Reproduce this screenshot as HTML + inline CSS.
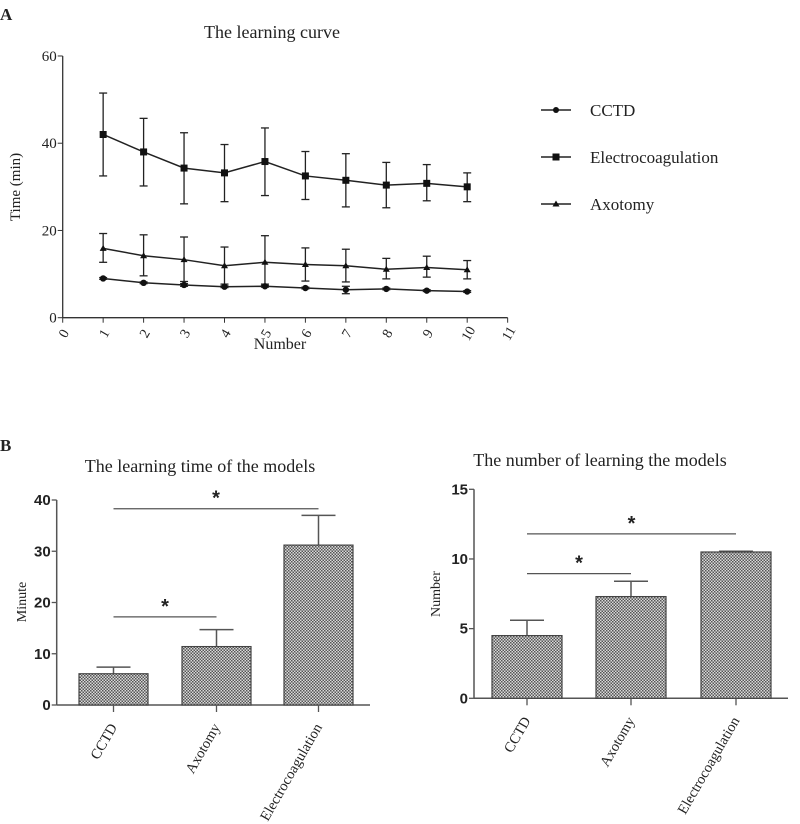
<!DOCTYPE html>
<html><head><meta charset="utf-8"><style>
html,body{margin:0;padding:0;background:#fff}
svg{display:block}
text{font-family:"Liberation Serif",serif;fill:#222}
.b{font-family:"Liberation Sans",sans-serif;font-weight:bold}
</style></head><body>
<svg id="s" width="800" height="824" viewBox="0 0 800 824" xmlns="http://www.w3.org/2000/svg">
<defs>
<pattern id="chk" width="3" height="3" patternUnits="userSpaceOnUse">
<rect width="3" height="3" fill="#dadada"/><rect width="1.5" height="1.5" fill="#555"/><rect x="1.5" y="1.5" width="1.5" height="1.5" fill="#555"/>
</pattern>
</defs>
<text x="0" y="20" class="b" font-size="17" style="font-family:'Liberation Serif',serif">A</text>
<text x="0" y="451" class="b" font-size="17" style="font-family:'Liberation Serif',serif">B</text>
<text x="272" y="38" font-size="18" text-anchor="middle">The learning curve</text>
<text x="280" y="349" font-size="16" text-anchor="middle">Number</text>
<text transform="translate(20,187) rotate(-90)" font-size="15" text-anchor="middle" fill="#444">Time (min)</text>
<text x="200" y="472" font-size="18" text-anchor="middle">The learning time of the models</text>
<text x="600" y="466" font-size="18" text-anchor="middle">The number of learning the models</text>
<text transform="translate(26,602) rotate(-90)" font-size="14" text-anchor="middle">Minute</text>
<text transform="translate(440,594) rotate(-90)" font-size="14" text-anchor="middle">Number</text>
<g id="gA"></g><g id="gB1"></g><g id="gB2"></g>
</svg>
<script>
const xs=[1,2,3,4,5,6,7,8,9,10];
const electroMean=[42,38,34.3,33.2,35.8,32.5,31.5,30.4,30.8,30];
const electroHi=[51.5,45.7,42.4,39.7,43.5,38.1,37.6,35.6,35.1,33.2];
const electroLo=[32.5,30.2,26.1,26.6,28,27.1,25.4,25.2,26.8,26.6];
const axoMean=[15.9,14.2,13.3,11.9,12.7,12.2,11.9,11.1,11.5,11.0];
const axoHi=[19.3,19,18.5,16.2,18.8,16,15.7,13.6,14.1,13.1];
const axoLo=[12.7,9.6,8.3,7.7,7.7,8.4,8.2,8.9,9.3,8.9];
const cctdMean=[9.0,8.0,7.5,7.1,7.2,6.8,6.4,6.6,6.2,6.0];
const cctdHi=[9.2,8.2,7.8,7.3,7.4,7.0,7.2,6.8,6.4,6.2];
const cctdLo=[8.8,7.8,7.2,6.9,7.0,6.6,5.5,6.4,6.0,5.8];
const xTicks=[0,1,2,3,4,5,6,7,8,9,10,11];
const yTicksA=[0,20,40,60];
const barCats=['CCTD','Axotomy','Electrocoagulation'];
const timeVals=[6.1,11.4,31.2];
const timeErr=[7.4,14.7,37];
const timeTicks=[0,10,20,30,40];
const numVals=[4.5,7.3,10.5];
const numErr=[5.6,8.4,10.55];
const numTicks=[0,5,10,15];
const NS='http://www.w3.org/2000/svg';
function mk(p,t,a,txt){const e=document.createElementNS(NS,t);for(const k in a)e.setAttribute(k,a[k]);if(txt!=null)e.textContent=txt;p.appendChild(e);return e;}
const gA=document.getElementById('gA');
const ax=v=>62.7+v*40.45, ay=v=>317.7-v*4.362;
let e;
e=mk(gA,'line',{x1:ax(0),y1:ay(0),x2:ax(11),y2:ay(0),stroke:'#333','stroke-width':1.3});

e=mk(gA,'line',{x1:ax(0),y1:ay(0),x2:ax(0),y2:ay(60),stroke:'#333','stroke-width':1.3});

xTicks.forEach(t=>{mk(gA,'line',{x1:ax(t),y1:ay(0),x2:ax(t),y2:ay(0)+5,stroke:'#333'});
 e=mk(gA,'text',{transform:`translate(${ax(t)+5},${ay(0)+18}) rotate(-60)`,'font-size':14,'text-anchor':'middle',fill:'#444'},t);
 });
yTicksA.forEach(t=>{mk(gA,'line',{x1:ax(0)-5,y1:ay(t),x2:ax(0),y2:ay(t),stroke:'#333'});
 e=mk(gA,'text',{x:ax(0)-6,y:ay(t)+5,'font-size':15,'text-anchor':'end',fill:'#444'},t);
 });
function series(mean,hi,lo,shape,name){
 const g=mk(gA,'g',{});
 mk(g,'polyline',{points:xs.map((x,i)=>ax(x)+','+ay(mean[i])).join(' '),fill:'none',stroke:'#222','stroke-width':1.5});
 xs.forEach((x,i)=>{const X=ax(x);
  mk(g,'line',{x1:X,y1:ay(hi[i]),x2:X,y2:ay(lo[i]),stroke:'#222','stroke-width':1.3});
  mk(g,'line',{x1:X-4,y1:ay(hi[i]),x2:X+4,y2:ay(hi[i]),stroke:'#222','stroke-width':1.3});
  mk(g,'line',{x1:X-4,y1:ay(lo[i]),x2:X+4,y2:ay(lo[i]),stroke:'#222','stroke-width':1.3});
  const Y=ay(mean[i]);let m;
  if(shape==='c')m=mk(g,'circle',{cx:X,cy:Y,r:3.2,fill:'#111'});
  else if(shape==='s')m=mk(g,'rect',{x:X-3.5,y:Y-3.5,width:7,height:7,fill:'#111'});
  else m=mk(g,'polygon',{points:`${X},${Y-3.5} ${X-3.5},${Y+2.5} ${X+3.5},${Y+2.5}`,fill:'#111'});
  });
}
series(electroMean,electroHi,electroLo,'s','electrocoagulation');
series(axoMean,axoHi,axoLo,'t','axotomy');
series(cctdMean,cctdHi,cctdLo,'c','cctd');
[['CCTD','c',110],['Electrocoagulation','s',157],['Axotomy','t',204]].forEach(([n,s,y])=>{
 const g=mk(gA,'g',{});
 mk(g,'line',{x1:541,y1:y,x2:571,y2:y,stroke:'#222','stroke-width':1.5});
 if(s==='c')mk(g,'circle',{cx:556,cy:y,r:3,fill:'#111'});
 else if(s==='s')mk(g,'rect',{x:552.5,y:y-3.5,width:7,height:7,fill:'#111'});
 else mk(g,'polygon',{points:`556,${y-3.5} 552.5,${y+2.5} 559.5,${y+2.5}`,fill:'#111'});
 mk(g,'text',{x:590,y:y+6,'font-size':17,fill:'#333'},n);
});
function bars(gid,x0,x1,y0,yTop,maxV,ticks,vals,errs,barL,bw,sig,prefix){
 const g=document.getElementById(gid);
 const by=v=>y0-v*(y0-yTop)/maxV;
 e=mk(g,'line',{x1:x0,y1:y0,x2:x1,y2:y0,stroke:'#555','stroke-width':1.5});
 
 e=mk(g,'line',{x1:x0,y1:y0,x2:x0,y2:yTop,stroke:'#555','stroke-width':1.5});
 
 ticks.forEach(t=>{mk(g,'line',{x1:x0-5,y1:by(t),x2:x0,y2:by(t),stroke:'#555','stroke-width':1.3});
  e=mk(g,'text',{x:x0-6,y:by(t)+5,'font-size':15,'text-anchor':'end',class:'b'},t);
  });
 vals.forEach((v,i)=>{const L=barL[i],C=L+bw/2;
  mk(g,'line',{x1:C,y1:by(v),x2:C,y2:by(errs[i]),stroke:'#555','stroke-width':1.5});
  mk(g,'line',{x1:C-17,y1:by(errs[i]),x2:C+17,y2:by(errs[i]),stroke:'#555','stroke-width':1.5});
  e=mk(g,'rect',{x:L,y:by(v),width:bw,height:y0-by(v),fill:'url(#chk)',stroke:'#444','stroke-width':1.2});
  
  mk(g,'line',{x1:C,y1:y0,x2:C,y2:y0+7,stroke:'#555','stroke-width':1.3});
  e=mk(g,'text',{transform:`translate(${C+4},${y0+22}) rotate(-60)`,'font-size':14.5,'text-anchor':'end',fill:'#333'},barCats[i]);
  
 });
 sig.forEach(s=>{const a=barL[s[0]]+bw/2,b=barL[s[1]]+bw/2,y=by(s[2]);
  e=mk(g,'line',{x1:a,y1:y,x2:b,y2:y,stroke:'#555','stroke-width':1.3});
  
  e=mk(g,'text',{x:(a+b)/2,y:y-4,'font-size':20,'text-anchor':'middle',class:'b',fill:'#111'},'*');
  });
}
bars('gB1',56.7,370,705,500,40,timeTicks,timeVals,timeErr,[79,182,284],69,[[0,1,17.2],[0,2,38.3]],'time');
bars('gB2',474,788,698.3,489.3,15,numTicks,numVals,numErr,[492,596,701],70,[[0,1,8.95],[0,2,11.8]],'number');
</script>
</body></html>
